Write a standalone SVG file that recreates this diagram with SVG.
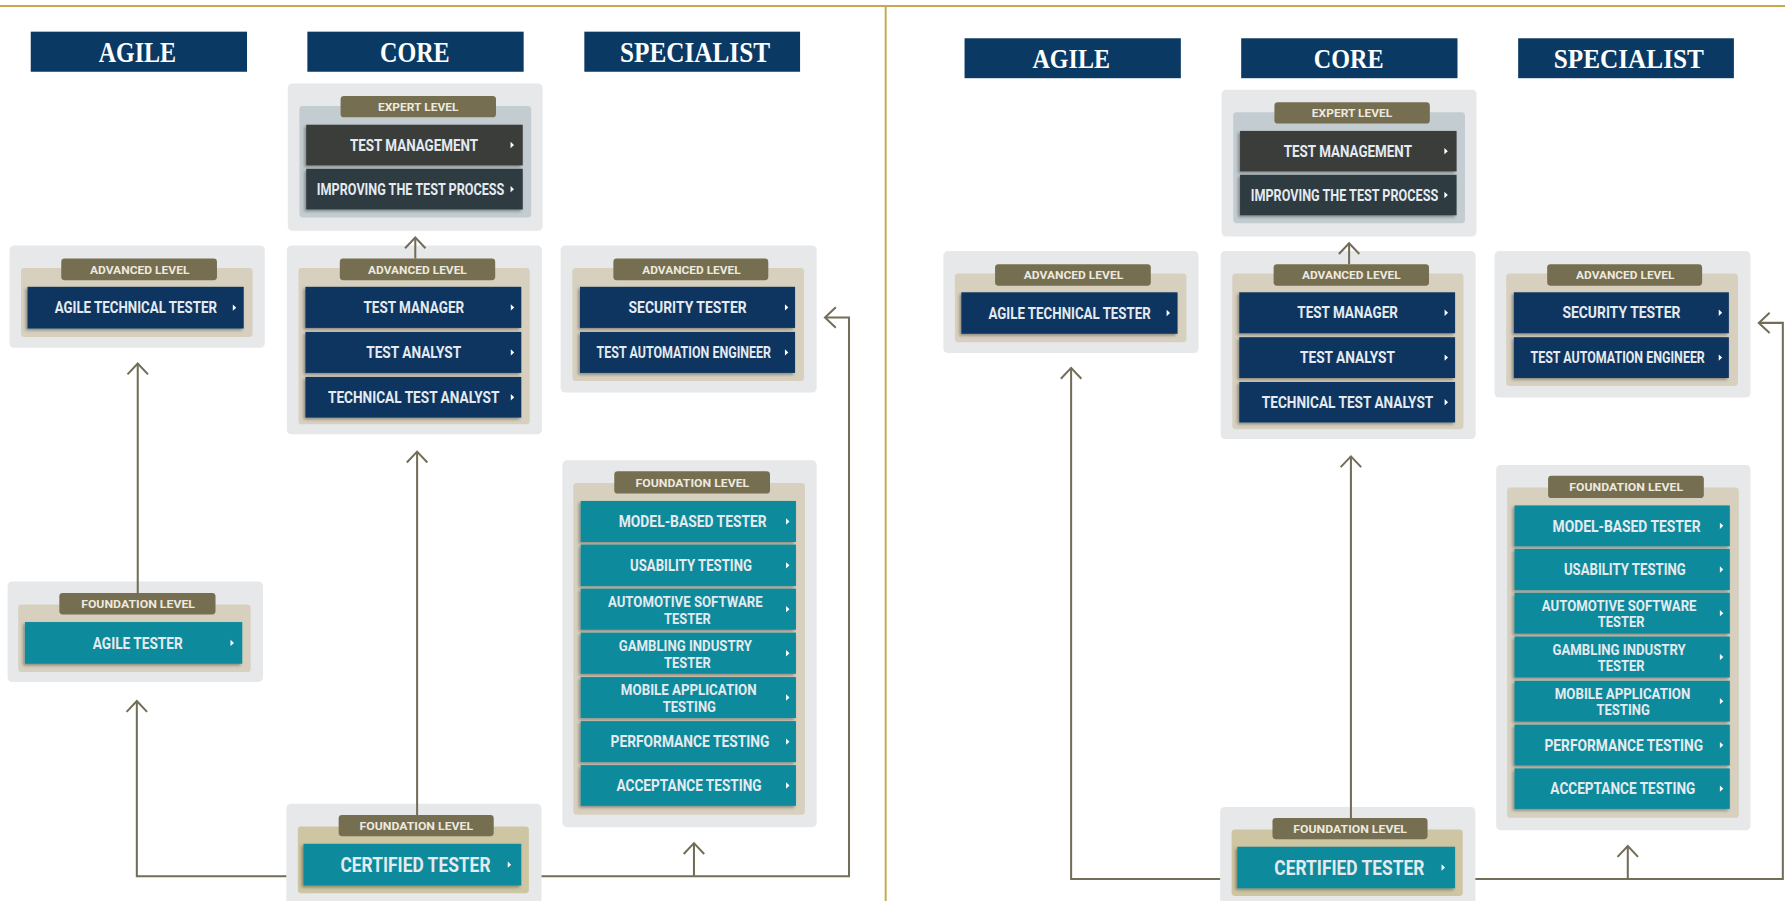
<svg xmlns="http://www.w3.org/2000/svg" width="1785" height="901" viewBox="0 0 1785 901">
<style>
.gold{stroke:#c6a94c;stroke-width:1.7;fill:none}
.hdr{fill:#0a3a64}
.th{font-family:"Liberation Serif","DejaVu Serif",serif;font-weight:bold;font-size:25px;fill:#ffffff;text-anchor:middle}
.outer{fill:#e7e8ea}
.inner{fill:#d7d0bf}
.inner-cert{fill:#cec5a2}
.inner-exp{fill:#c3ccd0}
.badge{fill:#756e50}
.tb{font-family:Roboto,"Liberation Sans",sans-serif;font-weight:bold;font-size:10.2px;fill:#ede9df;text-anchor:middle}
.navy{fill:#0b3661;filter:url(#sh)}
.teal{fill:#088a9b;filter:url(#sh)}
.dark1{fill:#3b3c3b;filter:url(#sh)}
.dark2{fill:#2e3b3f;filter:url(#sh)}
.tx{font-family:Roboto,"Liberation Sans",sans-serif;font-weight:bold;font-size:14px;fill:#e4eaf0;text-anchor:middle}
.tx2{font-size:13px}
.txl{font-size:17.6px}
.tri{fill:#ffffff}
.conn{fill:none;stroke:#736e58;stroke-width:1.8;marker-end:url(#chev)}
</style>
<defs>
<filter id="sh" x="-10%" y="-20%" width="120%" height="150%">
<feDropShadow dx="-1.5" dy="1.5" stdDeviation="1.5" flood-color="#000000" flood-opacity="0.35"/>
</filter>
<marker id="chev" viewBox="-12 -11 14 22" refX="0" refY="0" markerWidth="14" markerHeight="22" markerUnits="userSpaceOnUse" orient="auto" overflow="visible">
<path d="M-9.5 -9 L0 0 L-9.5 9" fill="none" stroke="#736e58" stroke-width="1.8"/>
</marker>
</defs>
<rect x="0" y="0" width="1785" height="901" fill="#ffffff"/>
<g transform="scale(1.13839 1.13906)">
<g id="frame">
<line class="gold" x1="0" y1="5.3" x2="1568" y2="5.3"/>
<line class="gold" x1="778" y1="5.3" x2="778" y2="791"/>
</g>

<g id="left">
<g id="L-hdr-agile"><rect class="hdr" x="27" y="27.8" width="190" height="35.2"/><text class="th" x="120.7" y="54.2" textLength="68" lengthAdjust="spacingAndGlyphs">AGILE</text></g>
<g id="L-hdr-core"><rect class="hdr" x="270" y="27.8" width="190" height="35.2"/><text class="th" x="364.4" y="54.2" textLength="61.2" lengthAdjust="spacingAndGlyphs">CORE</text></g>
<g id="L-hdr-specialist"><rect class="hdr" x="513.3" y="27.8" width="189.5" height="35.2"/><text class="th" x="610.5" y="54.2" textLength="131.8" lengthAdjust="spacingAndGlyphs">SPECIALIST</text></g>

<g id="L-core-expert">
<rect class="outer" x="252.8" y="73.2" width="223.9" height="129.4" rx="4"/>
<rect class="inner-exp" x="263" y="93" width="203.6" height="97.9" rx="3"/>
<rect class="badge" x="299.2" y="84.3" width="136.5" height="18.7" rx="3"/>
<text class="tb" x="367.4" y="97.4" textLength="70.6" lengthAdjust="spacingAndGlyphs">EXPERT LEVEL</text>
<rect class="dark1" x="269" y="109.5" width="190.2" height="35.7"/>
<text class="tx" x="363.7" y="132.35" textLength="112.6" lengthAdjust="spacingAndGlyphs">TEST MANAGEMENT</text>
<path class="tri" d="M448.5 124.55 l3 2.8 l-3 2.8z"/>
<rect class="dark2" x="269" y="148.2" width="190.2" height="35.7"/>
<text class="tx" x="360.7" y="171.05" textLength="164.7" lengthAdjust="spacingAndGlyphs">IMPROVING THE TEST PROCESS</text>
<path class="tri" d="M448.5 163.25 l3 2.8 l-3 2.8z"/>
</g>

<g id="L-core-advanced">
<rect class="outer" x="252" y="215.5" width="224" height="165.8" rx="4"/>
<rect class="inner" x="262.2" y="235.2" width="203.1" height="137.3" rx="3"/>
<rect class="badge" x="298.5" y="227" width="136.5" height="19" rx="3"/>
<text class="tb" x="366.7" y="240.2" textLength="86.7" lengthAdjust="spacingAndGlyphs">ADVANCED LEVEL</text>
<rect class="navy" x="268.3" y="251.8" width="189.6" height="36.1"/>
<text class="tx" x="363.5" y="274.85" textLength="88.4" lengthAdjust="spacingAndGlyphs">TEST MANAGER</text>
<path class="tri" d="M448.7 267.05 l3 2.8 l-3 2.8z"/>
<rect class="navy" x="268.3" y="291.4" width="189.6" height="36"/>
<text class="tx" x="363.4" y="314.4" textLength="83.4" lengthAdjust="spacingAndGlyphs">TEST ANALYST</text>
<path class="tri" d="M448.7 306.6 l3 2.8 l-3 2.8z"/>
<rect class="navy" x="268.3" y="330.9" width="189.6" height="35.7"/>
<text class="tx" x="363.4" y="353.75" textLength="150.6" lengthAdjust="spacingAndGlyphs">TECHNICAL TEST ANALYST</text>
<path class="tri" d="M448.7 345.95 l3 2.8 l-3 2.8z"/>
</g>

<g id="L-agile-advanced">
<rect class="outer" x="8.4" y="215.5" width="224.2" height="89.9" rx="4"/>
<rect class="inner" x="18.5" y="235.2" width="203.4" height="60.6" rx="3"/>
<rect class="badge" x="53.8" y="227" width="136.8" height="19" rx="3"/>
<text class="tb" x="122.7" y="240.2" textLength="87.4" lengthAdjust="spacingAndGlyphs">ADVANCED LEVEL</text>
<rect class="navy" x="24.2" y="251.8" width="189.9" height="36.6"/>
<text class="tx" x="119.3" y="275.1" textLength="142.5" lengthAdjust="spacingAndGlyphs">AGILE TECHNICAL TESTER</text>
<path class="tri" d="M204.5 267.3 l3 2.8 l-3 2.8z"/>
</g>

<g id="L-specialist-advanced">
<rect class="outer" x="492.5" y="215.5" width="224.9" height="129.1" rx="4"/>
<rect class="inner" x="502.8" y="235.2" width="203.5" height="99.2" rx="3"/>
<rect class="badge" x="538.8" y="227" width="136.1" height="19" rx="3"/>
<text class="tb" x="607.4" y="240.2" textLength="86.4" lengthAdjust="spacingAndGlyphs">ADVANCED LEVEL</text>
<rect class="navy" x="509.5" y="251.8" width="188.9" height="36.1"/>
<text class="tx" x="604" y="274.85" textLength="103.7" lengthAdjust="spacingAndGlyphs">SECURITY TESTER</text>
<path class="tri" d="M689.5 267.05 l3 2.8 l-3 2.8z"/>
<rect class="navy" x="509.5" y="291.4" width="188.9" height="36"/>
<text class="tx" x="600.7" y="314.4" textLength="153.2" lengthAdjust="spacingAndGlyphs">TEST AUTOMATION ENGINEER</text>
<path class="tri" d="M689.5 306.6 l3 2.8 l-3 2.8z"/>
</g>

<g id="L-agile-foundation">
<rect class="outer" x="6.7" y="510.4" width="224.3" height="88.4" rx="4"/>
<rect class="inner" x="16" y="530.6" width="204.2" height="59.4" rx="3"/>
<rect class="badge" x="52.1" y="520.6" width="137.2" height="18.8" rx="3"/>
<text class="tb" x="121.3" y="533.7" textLength="100" lengthAdjust="spacingAndGlyphs">FOUNDATION LEVEL</text>
<rect class="teal" x="21.9" y="546.1" width="190.9" height="36.6"/>
<text class="tx" x="121" y="569.4" textLength="79" lengthAdjust="spacingAndGlyphs">AGILE TESTER</text>
<path class="tri" d="M202.5 561.6 l3 2.8 l-3 2.8z"/>
</g>

<g id="L-certified">
<rect class="outer" x="251.5" y="705.7" width="224.2" height="95" rx="4"/>
<rect class="inner-cert" x="261.6" y="725.6" width="203" height="58.6" rx="3"/>
<rect class="badge" x="297.5" y="715.4" width="136.2" height="18.7" rx="3"/>
<text class="tb" x="365.7" y="728.45" textLength="99.8" lengthAdjust="spacingAndGlyphs">FOUNDATION LEVEL</text>
<rect class="teal" x="266.6" y="740.8" width="191.3" height="36.6"/>
<text class="tx txl" x="365" y="765.4" textLength="131.8" lengthAdjust="spacingAndGlyphs">CERTIFIED TESTER</text>
<path class="tri" d="M446 756.3 l3 2.8 l-3 2.8z"/>
</g>

<g id="L-specialist-foundation">
<rect class="outer" x="494" y="404.1" width="223.4" height="322.1" rx="4"/>
<rect class="inner" x="503.6" y="424" width="203.5" height="291.3" rx="3"/>
<rect class="badge" x="539.6" y="413.7" width="136.8" height="19.6" rx="3"/>
<text class="tb" x="608.2" y="427.2" textLength="99.9" lengthAdjust="spacingAndGlyphs">FOUNDATION LEVEL</text>
<rect class="teal" x="510.1" y="439.8" width="189.1" height="36"/>
<text class="tx" x="608.5" y="462.8" textLength="130" lengthAdjust="spacingAndGlyphs">MODEL-BASED TESTER</text>
<path class="tri" d="M690.5 455 l3 2.8 l-3 2.8z"/>
<rect class="teal" x="510.1" y="478.1" width="189.1" height="36.4"/>
<text class="tx" x="607" y="501.3" textLength="107" lengthAdjust="spacingAndGlyphs">USABILITY TESTING</text>
<path class="tri" d="M690.5 493.5 l3 2.8 l-3 2.8z"/>
<rect class="teal" x="510.1" y="516.8" width="189.1" height="36"/>
<text class="tx tx2" x="602" y="532.8" textLength="135.9" lengthAdjust="spacingAndGlyphs">AUTOMOTIVE SOFTWARE</text>
<text class="tx tx2" x="603.8" y="547.4" textLength="41" lengthAdjust="spacingAndGlyphs">TESTER</text>
<path class="tri" d="M690.5 532 l3 2.8 l-3 2.8z"/>
<rect class="teal" x="510.1" y="555.4" width="189.1" height="36.1"/>
<text class="tx tx2" x="602" y="571.45" textLength="117.1" lengthAdjust="spacingAndGlyphs">GAMBLING INDUSTRY</text>
<text class="tx tx2" x="603.8" y="586.05" textLength="41" lengthAdjust="spacingAndGlyphs">TESTER</text>
<path class="tri" d="M690.5 570.65 l3 2.8 l-3 2.8z"/>
<rect class="teal" x="510.1" y="594.4" width="189.1" height="36"/>
<text class="tx tx2" x="605" y="610.4" textLength="119.2" lengthAdjust="spacingAndGlyphs">MOBILE APPLICATION</text>
<text class="tx tx2" x="605.5" y="625" textLength="46.8" lengthAdjust="spacingAndGlyphs">TESTING</text>
<path class="tri" d="M690.5 609.6 l3 2.8 l-3 2.8z"/>
<rect class="teal" x="510.1" y="633.1" width="189.1" height="36"/>
<text class="tx" x="606.1" y="656.1" textLength="139.4" lengthAdjust="spacingAndGlyphs">PERFORMANCE TESTING</text>
<path class="tri" d="M690.5 648.3 l3 2.8 l-3 2.8z"/>
<rect class="teal" x="510.1" y="671.7" width="189.1" height="35.7"/>
<text class="tx" x="605.3" y="694.55" textLength="127.4" lengthAdjust="spacingAndGlyphs">ACCEPTANCE TESTING</text>
<path class="tri" d="M690.5 686.75 l3 2.8 l-3 2.8z"/>
</g>

<g id="L-connectors">
<path class="conn" d="M251.5 769.2 H120.2 V615.5"/>
<path class="conn" d="M121 520.6 V319.2"/>
<path class="conn" d="M366.4 715.4 V396.5"/>
<path class="conn" d="M364.8 227 V208.5"/>
<path class="conn" d="M475.7 769.2 H745.8 V278.8 H724.7"/>
<path class="conn" d="M609.6 769.2 V740.2"/>
</g>
</g>

<g id="right" transform="translate(820.3 5.93) scale(1 0.9955)">
<g id="R-hdr-agile"><rect class="hdr" x="27" y="27.8" width="190" height="35.2"/><text class="th" x="120.7" y="54.2" textLength="68" lengthAdjust="spacingAndGlyphs">AGILE</text></g>
<g id="R-hdr-core"><rect class="hdr" x="270" y="27.8" width="190" height="35.2"/><text class="th" x="364.4" y="54.2" textLength="61.2" lengthAdjust="spacingAndGlyphs">CORE</text></g>
<g id="R-hdr-specialist"><rect class="hdr" x="513.3" y="27.8" width="189.5" height="35.2"/><text class="th" x="610.5" y="54.2" textLength="131.8" lengthAdjust="spacingAndGlyphs">SPECIALIST</text></g>

<g id="R-core-expert">
<rect class="outer" x="252.8" y="73.2" width="223.9" height="129.4" rx="4"/>
<rect class="inner-exp" x="263" y="93" width="203.6" height="97.9" rx="3"/>
<rect class="badge" x="299.2" y="84.3" width="136.5" height="18.7" rx="3"/>
<text class="tb" x="367.4" y="97.4" textLength="70.6" lengthAdjust="spacingAndGlyphs">EXPERT LEVEL</text>
<rect class="dark1" x="269" y="109.5" width="190.2" height="35.7"/>
<text class="tx" x="363.7" y="132.35" textLength="112.6" lengthAdjust="spacingAndGlyphs">TEST MANAGEMENT</text>
<path class="tri" d="M448.5 124.55 l3 2.8 l-3 2.8z"/>
<rect class="dark2" x="269" y="148.2" width="190.2" height="35.7"/>
<text class="tx" x="360.7" y="171.05" textLength="164.7" lengthAdjust="spacingAndGlyphs">IMPROVING THE TEST PROCESS</text>
<path class="tri" d="M448.5 163.25 l3 2.8 l-3 2.8z"/>
</g>

<g id="R-core-advanced">
<rect class="outer" x="252" y="215.5" width="224" height="165.8" rx="4"/>
<rect class="inner" x="262.2" y="235.2" width="203.1" height="137.3" rx="3"/>
<rect class="badge" x="298.5" y="227" width="136.5" height="19" rx="3"/>
<text class="tb" x="366.7" y="240.2" textLength="86.7" lengthAdjust="spacingAndGlyphs">ADVANCED LEVEL</text>
<rect class="navy" x="268.3" y="251.8" width="189.6" height="36.1"/>
<text class="tx" x="363.5" y="274.85" textLength="88.4" lengthAdjust="spacingAndGlyphs">TEST MANAGER</text>
<path class="tri" d="M448.7 267.05 l3 2.8 l-3 2.8z"/>
<rect class="navy" x="268.3" y="291.4" width="189.6" height="36"/>
<text class="tx" x="363.4" y="314.4" textLength="83.4" lengthAdjust="spacingAndGlyphs">TEST ANALYST</text>
<path class="tri" d="M448.7 306.6 l3 2.8 l-3 2.8z"/>
<rect class="navy" x="268.3" y="330.9" width="189.6" height="35.7"/>
<text class="tx" x="363.4" y="353.75" textLength="150.6" lengthAdjust="spacingAndGlyphs">TECHNICAL TEST ANALYST</text>
<path class="tri" d="M448.7 345.95 l3 2.8 l-3 2.8z"/>
</g>

<g id="R-agile-advanced">
<rect class="outer" x="8.4" y="215.5" width="224.2" height="89.9" rx="4"/>
<rect class="inner" x="18.5" y="235.2" width="203.4" height="60.6" rx="3"/>
<rect class="badge" x="53.8" y="227" width="136.8" height="19" rx="3"/>
<text class="tb" x="122.7" y="240.2" textLength="87.4" lengthAdjust="spacingAndGlyphs">ADVANCED LEVEL</text>
<rect class="navy" x="24.2" y="251.8" width="189.9" height="36.6"/>
<text class="tx" x="119.3" y="275.1" textLength="142.5" lengthAdjust="spacingAndGlyphs">AGILE TECHNICAL TESTER</text>
<path class="tri" d="M204.5 267.3 l3 2.8 l-3 2.8z"/>
</g>

<g id="R-specialist-advanced">
<rect class="outer" x="492.5" y="215.5" width="224.9" height="129.1" rx="4"/>
<rect class="inner" x="502.8" y="235.2" width="203.5" height="99.2" rx="3"/>
<rect class="badge" x="538.8" y="227" width="136.1" height="19" rx="3"/>
<text class="tb" x="607.4" y="240.2" textLength="86.4" lengthAdjust="spacingAndGlyphs">ADVANCED LEVEL</text>
<rect class="navy" x="509.5" y="251.8" width="188.9" height="36.1"/>
<text class="tx" x="604" y="274.85" textLength="103.7" lengthAdjust="spacingAndGlyphs">SECURITY TESTER</text>
<path class="tri" d="M689.5 267.05 l3 2.8 l-3 2.8z"/>
<rect class="navy" x="509.5" y="291.4" width="188.9" height="36"/>
<text class="tx" x="600.7" y="314.4" textLength="153.2" lengthAdjust="spacingAndGlyphs">TEST AUTOMATION ENGINEER</text>
<path class="tri" d="M689.5 306.6 l3 2.8 l-3 2.8z"/>
</g>

<g id="R-certified">
<rect class="outer" x="251.5" y="705.7" width="224.2" height="95" rx="4"/>
<rect class="inner-cert" x="261.6" y="725.6" width="203" height="58.6" rx="3"/>
<rect class="badge" x="297.5" y="715.4" width="136.2" height="18.7" rx="3"/>
<text class="tb" x="365.7" y="728.45" textLength="99.8" lengthAdjust="spacingAndGlyphs">FOUNDATION LEVEL</text>
<rect class="teal" x="266.6" y="740.8" width="191.3" height="36.6"/>
<text class="tx txl" x="365" y="765.4" textLength="131.8" lengthAdjust="spacingAndGlyphs">CERTIFIED TESTER</text>
<path class="tri" d="M446 756.3 l3 2.8 l-3 2.8z"/>
</g>

<g id="R-specialist-foundation">
<rect class="outer" x="494" y="404.1" width="223.4" height="322.1" rx="4"/>
<rect class="inner" x="503.6" y="424" width="203.5" height="291.3" rx="3"/>
<rect class="badge" x="539.6" y="413.7" width="136.8" height="19.6" rx="3"/>
<text class="tb" x="608.2" y="427.2" textLength="99.9" lengthAdjust="spacingAndGlyphs">FOUNDATION LEVEL</text>
<rect class="teal" x="510.1" y="439.8" width="189.1" height="36"/>
<text class="tx" x="608.5" y="462.8" textLength="130" lengthAdjust="spacingAndGlyphs">MODEL-BASED TESTER</text>
<path class="tri" d="M690.5 455 l3 2.8 l-3 2.8z"/>
<rect class="teal" x="510.1" y="478.1" width="189.1" height="36.4"/>
<text class="tx" x="607" y="501.3" textLength="107" lengthAdjust="spacingAndGlyphs">USABILITY TESTING</text>
<path class="tri" d="M690.5 493.5 l3 2.8 l-3 2.8z"/>
<rect class="teal" x="510.1" y="516.8" width="189.1" height="36"/>
<text class="tx tx2" x="602" y="532.8" textLength="135.9" lengthAdjust="spacingAndGlyphs">AUTOMOTIVE SOFTWARE</text>
<text class="tx tx2" x="603.8" y="547.4" textLength="41" lengthAdjust="spacingAndGlyphs">TESTER</text>
<path class="tri" d="M690.5 532 l3 2.8 l-3 2.8z"/>
<rect class="teal" x="510.1" y="555.4" width="189.1" height="36.1"/>
<text class="tx tx2" x="602" y="571.45" textLength="117.1" lengthAdjust="spacingAndGlyphs">GAMBLING INDUSTRY</text>
<text class="tx tx2" x="603.8" y="586.05" textLength="41" lengthAdjust="spacingAndGlyphs">TESTER</text>
<path class="tri" d="M690.5 570.65 l3 2.8 l-3 2.8z"/>
<rect class="teal" x="510.1" y="594.4" width="189.1" height="36"/>
<text class="tx tx2" x="605" y="610.4" textLength="119.2" lengthAdjust="spacingAndGlyphs">MOBILE APPLICATION</text>
<text class="tx tx2" x="605.5" y="625" textLength="46.8" lengthAdjust="spacingAndGlyphs">TESTING</text>
<path class="tri" d="M690.5 609.6 l3 2.8 l-3 2.8z"/>
<rect class="teal" x="510.1" y="633.1" width="189.1" height="36"/>
<text class="tx" x="606.1" y="656.1" textLength="139.4" lengthAdjust="spacingAndGlyphs">PERFORMANCE TESTING</text>
<path class="tri" d="M690.5 648.3 l3 2.8 l-3 2.8z"/>
<rect class="teal" x="510.1" y="671.7" width="189.1" height="35.7"/>
<text class="tx" x="605.3" y="694.55" textLength="127.4" lengthAdjust="spacingAndGlyphs">ACCEPTANCE TESTING</text>
<path class="tri" d="M690.5 686.75 l3 2.8 l-3 2.8z"/>
</g>

<g id="R-connectors">
<path class="conn" d="M251.5 769.2 H120.6 V318.5"/>
<path class="conn" d="M366.4 715.4 V396.5"/>
<path class="conn" d="M364.8 227 V208.5"/>
<path class="conn" d="M475.7 769.2 H745.8 V278.8 H724.7"/>
<path class="conn" d="M609.6 769.2 V740.2"/>
</g>
</g>
</g>
</svg>
